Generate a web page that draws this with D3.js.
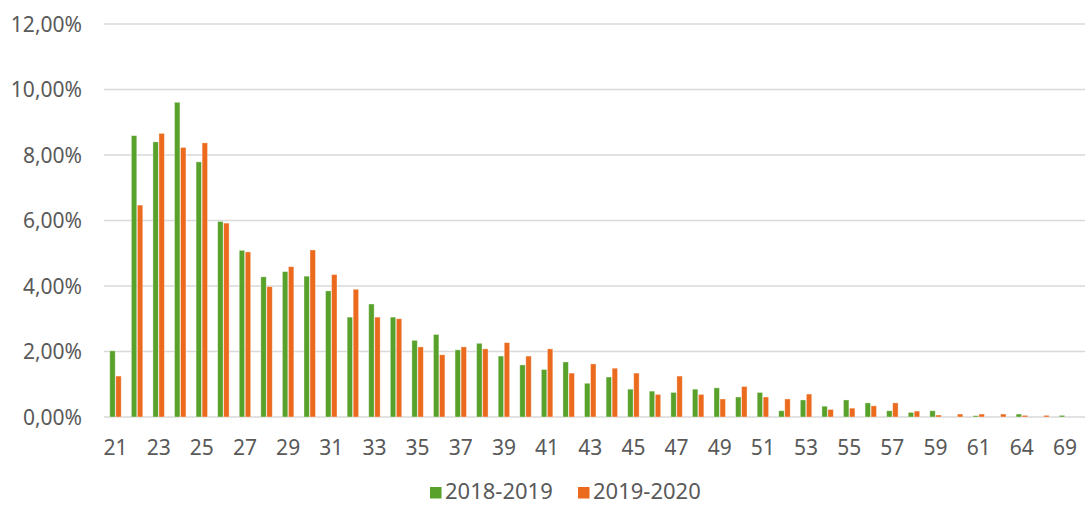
<!DOCTYPE html>
<html lang="pt">
<head>
<meta charset="UTF-8">
<title>Idades</title>
<style>
  body { margin: 0; background: #fff; }
  svg text { font-family: "Noto Sans", "Open Sans", sans-serif; fill: #595959; }
</style>
</head>
<body>
<div id="chart"></div>
<script src="https://cdn.jsdelivr.net/npm/d3@7"></script>
<script>
// idades (categorias)
var ages = ["21","22","23","24","25","26","27","28","29","30","31","32","33","34","35","36","37","38","39","40",
            "41","42","43","44","45","46","47","48","49","50","51","52","53","54","55","56","57","58","59","60",
            "61","63","64","66","69"];

// percentagens por ano lectivo
var s2018 = [2.02,8.59,8.40,9.61,7.79,5.97,5.09,4.28,4.44,4.30,3.85,3.05,3.45,3.05,2.34,2.52,2.05,2.25,1.86,1.59,
             1.45,1.68,1.03,1.22,0.85,0.79,0.75,0.85,0.89,0.61,0.75,0.19,0.52,0.33,0.52,0.43,0.19,0.14,0.19,0,
             0.04,0,0.09,0,0.05];
var s2019 = [1.25,6.47,8.66,8.23,8.37,5.92,5.04,3.98,4.59,5.10,4.35,3.90,3.05,3.00,2.14,1.90,2.14,2.08,2.27,1.86,
             2.08,1.34,1.62,1.49,1.34,0.69,1.25,0.69,0.55,0.93,0.61,0.55,0.70,0.23,0.27,0.34,0.43,0.18,0.06,0.09,
             0.09,0.09,0.05,0.05,0];

var seriesNames = ["2018-2019", "2019-2020"];
var colors = ["#58a12a", "#eb6a1e"];
var yTicks = [0, 2, 4, 6, 8, 10, 12];

var width = 1087, height = 506;

var svg = d3.select("#chart").append("svg")
    .attr("width", width)
    .attr("height", height);

var x = d3.scaleBand()
    .domain(ages)
    .range([104.7, 1075.8])
    .paddingInner(0.47)
    .paddingOuter(0.235);

var x1 = d3.scaleBand()
    .domain([0, 1])
    .range([0, x.bandwidth()])
    .paddingInner(0.1);

var y = d3.scaleLinear()
    .domain([0, 12])
    .range([417, 24]);

var fmt = function (v) { return v.toFixed(2).replace(".", ",") + "%"; };

// grelha
svg.append("g")
    .selectAll("line")
    .data(yTicks)
    .enter().append("line")
    .attr("x1", 104)
    .attr("x2", 1085)
    .attr("y1", function (d) { return y(d); })
    .attr("y2", function (d) { return y(d); })
    .attr("stroke", "#d9d9d9")
    .attr("stroke-width", 1.6);

// eixo y
var yAxis = svg.append("g")
    .attr("transform", "translate(82,0)")
    .call(d3.axisLeft(y).tickValues(yTicks).tickSize(0).tickPadding(0).tickFormat(fmt));
yAxis.select(".domain").remove();
yAxis.selectAll("text")
    .attr("font-size", 21)
    .attr("dy", "0.35em");

// barras
var rows = ages.map(function (a, i) { return { age: a, vals: [s2018[i], s2019[i]] }; });

var groups = svg.append("g")
    .selectAll("g")
    .data(rows)
    .enter().append("g")
    .attr("transform", function (d) { return "translate(" + x(d.age) + ",0)"; });

groups.selectAll("rect")
    .data(function (d) { return d.vals.map(function (v, k) { return { v: v, k: k }; }); })
    .enter().filter(function (d) { return d.v > 0; })
    .append("rect")
    .attr("x", function (d) { return x1(d.k); })
    .attr("width", x1.bandwidth())
    .attr("y", function (d) { return y(d.v); })
    .attr("height", function (d) { return y(0) - y(d.v); })
    .attr("fill", function (d) { return colors[d.k]; })
    .attr("stroke", "rgba(255,255,255,0.45)")
    .attr("stroke-width", 0.8);

// eixo x (um rotulo sim, outro nao)
var xAxis = svg.append("g")
    .attr("transform", "translate(0,417)")
    .call(d3.axisBottom(x)
        .tickSize(0)
        .tickPadding(0)
        .tickValues(ages.filter(function (a, i) { return i % 2 === 0; })));
xAxis.select(".domain").remove();
xAxis.selectAll("text")
    .attr("font-size", 21)
    .attr("dy", null)
    .attr("y", 38);

// legenda
var legend = svg.append("g")
    .selectAll("g")
    .data(seriesNames)
    .enter().append("g")
    .attr("transform", function (d, i) { return "translate(" + (430 + i * 148) + ",487)"; });

legend.append("rect")
    .attr("width", 11.5)
    .attr("height", 11.5)
    .attr("fill", function (d, i) { return colors[i]; });

legend.append("text")
    .attr("x", 15)
    .attr("y", 12)
    .attr("font-size", 22)
    .text(function (d) { return d; });
</script>
</body>
</html>
